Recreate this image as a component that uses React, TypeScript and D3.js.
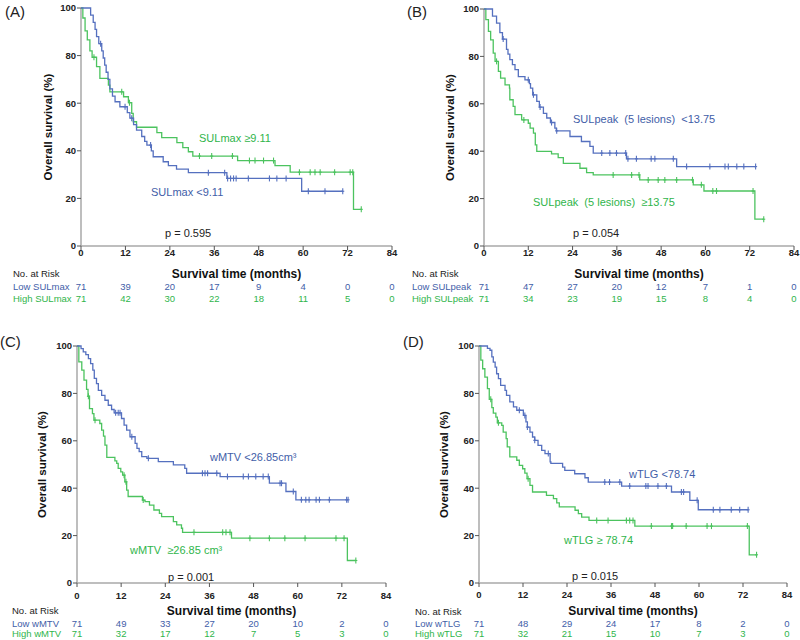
import React from "react";
import * as d3 from "d3";

// ---------- Data ----------
const xTicks = [0, 12, 24, 36, 48, 60, 72, 84];
const yTicks = [0, 20, 40, 60, 80, 100];

// Panel A: SULmax
const aLowSteps: [number, number][] = [[0,100],[2.6,97],[3.3,94],[3.8,91],[4.2,88],[4.8,85],[5.6,82],[6.0,79],[6.4,76],[6.8,73],[7.3,70],[7.8,66],[8.5,63],[9.2,60.6],[10.5,58.5],[12.5,56],[13.2,53.7],[14.2,51],[15,48.7],[16.4,46],[17.2,44],[17.8,42.4],[19,40],[19.5,37.5],[22.2,35.4],[23.6,33.8],[25.8,32.3],[29,30.8],[39.4,28.4],[59.6,23],[70.7,23]];
const aLowCensors = [5.3, 11.9, 13.7, 18.8, 34.4, 38.8, 39.6, 40.4, 41.2, 41.9, 45.2, 50.9, 52.9, 55.4, 61.4, 65.9, 70.7];
const aHighSteps: [number, number][] = [[0,100],[0.5,95.8],[1.1,90.4],[1.7,86.6],[2.4,82],[3.0,79.3],[4.2,75.4],[5.1,70.4],[7.4,67.6],[7.8,64.8],[11.5,62.7],[12.8,60.2],[13.7,55.7],[14.1,52.2],[15,49.9],[20.5,47.6],[21.8,45.5],[25.9,43.4],[27.5,41.3],[29,39.6],[30.2,37.8],[42.3,35.9],[52.4,33.8],[56.5,31],[73.6,15.4],[75.7,15.4]];
const aHighCensors = [3.5, 11, 13.1, 32, 35.3, 40.9, 45.5, 47, 49.3, 52, 59, 61.9, 63.2, 64.6, 68.5, 72.7, 73.4, 75.7];
const aLowRisk = [71, 39, 20, 17, 9, 4, 0, 0];
const aHighRisk = [71, 42, 30, 22, 18, 11, 5, 0];

// Panel B: SULpeak
const bLowSteps: [number, number][] = [[0,100],[2.3,97],[3.4,94],[4.3,90],[5.0,87.3],[6.1,83],[6.5,81],[7,78.6],[7.7,76.5],[8.4,74.4],[9.3,71.5],[11.1,70.1],[12.3,68.5],[12.6,66.6],[13.2,63.8],[14.3,61],[15,58.6],[16.1,56],[17,54],[18,52.1],[19.2,49.7],[19.6,48.6],[23.3,46.2],[26.4,44.1],[28.7,42],[29.6,39.2],[38.6,36.8],[52.2,33.5],[73.6,33.5]];
const bLowCensors = [5.2, 12.0, 13.4, 15.2, 18.3, 19.7, 31.9, 34.1, 35.9, 38.4, 39.0, 41.3, 45.3, 46.3, 51.3, 54.9, 61.2, 65.3, 66.2, 68.5, 70.4, 73.6];
const bHighSteps: [number, number][] = [[0,100],[0.5,95.5],[1.2,90.6],[1.8,87],[2.5,81.4],[3.0,77.9],[3.9,73.7],[4.5,70.8],[5.7,68],[6.9,66.6],[7.0,61.7],[7.9,58.9],[8.4,55.4],[10.2,53.2],[12,51.8],[12.5,49.7],[13.4,47.6],[13.9,42.7],[14.3,39.9],[18.3,38.9],[20.1,37.3],[21.5,34.9],[26,32.8],[27.8,31],[29.6,30],[42.2,27.9],[56.7,25.8],[59.6,23.2],[73.4,11.3],[75.8,11.3]];
const bHighCensors = [3.4, 10.8, 35, 40, 42, 44.5, 47.2, 49, 52.2, 56.5, 58.9, 62, 63, 72.9, 75.8];
const bLowRisk = [71, 47, 27, 20, 12, 7, 1, 0];
const bHighRisk = [71, 34, 23, 19, 15, 8, 4, 0];

// Panel C: wMTV
const cLowSteps: [number, number][] = [[0,100],[1.1,98.9],[1.7,97.5],[2.4,96.4],[3.1,94.7],[3.7,92.6],[4.3,89.8],[4.7,86.3],[5.3,84.1],[5.8,81.3],[6.7,79.2],[7.6,77.1],[8.5,75],[9.4,73.2],[10.1,71.8],[12.1,69.4],[12.8,66.6],[13.5,64.5],[14.4,61.7],[15.8,58.9],[16.3,56.8],[16.9,55.4],[17.6,53.3],[19,52.6],[22.1,51.2],[26.2,49.8],[29.3,48.4],[29.8,46.3],[38.9,44.9],[52.3,42.1],[56.8,38.6],[59.5,35.1],[73.7,35.1]];
const cLowCensors = [10.5, 11.2, 11.7, 14.9, 19.4, 34.1, 34.8, 35.5, 38, 40.9, 45.2, 46.6, 48.6, 50.6, 52.0, 55.2, 55.6, 58.8, 61, 62.2, 63.1, 65, 65.9, 68.6, 73.3, 73.7];
const cHighSteps: [number, number][] = [[0,100],[0.5,93.3],[1.3,89.8],[1.9,85.6],[2.6,81.7],[3.0,78.8],[3.4,73.6],[4.2,71.5],[4.6,68.7],[6.2,67.3],[6.7,64.5],[7.2,62],[7.6,58.2],[8.1,53],[10.3,51.5],[10.8,50.5],[11.2,48.4],[11.9,46.9],[12.4,45.5],[13,42.7],[13.5,39.2],[13.9,36.5],[17.8,35],[18.5,34.3],[19.7,32.9],[20.9,30.8],[22.4,29.4],[23,28],[26.2,25.9],[27.1,24.5],[28.4,23.1],[28.7,21.4],[42,18.9],[73.5,9.5],[75.8,9.5]];
const cHighCensors = [3.1, 4.9, 12.8, 13.3, 18, 31.8, 39.6, 40.5, 41.6, 47, 52.3, 56.5, 62, 70.4, 72.6, 75.8];
const cLowRisk = [71, 49, 33, 27, 20, 10, 2, 0];
const cHighRisk = [71, 32, 17, 12, 7, 5, 3, 0];

// Panel D: wTLG
const dLowSteps: [number, number][] = [[0,100],[2.3,99],[3,98.2],[3.5,95.4],[3.9,93.2],[4.4,91.1],[4.8,88.3],[5.3,86.2],[5.9,83.4],[7.1,81.3],[7.5,79.2],[8.4,76.4],[9.4,74.3],[10.3,72.9],[12.1,70.7],[12.8,68],[13.2,65.8],[13.9,63.7],[14.6,61.6],[15.2,60.2],[16.1,58.1],[17.1,56],[18,54.6],[19.4,51.1],[19.6,50.5],[22.8,48.9],[23.4,47.5],[26.1,46.1],[28.9,44.4],[29.8,42.6],[38.9,40.9],[52.5,38.4],[57.5,34.9],[59.8,30.9],[73.4,30.9]];
const dLowCensors = [11.0, 12.5, 13.2, 15.2, 18.9, 34.3, 35.6, 38.4, 41.1, 45.5, 46.1, 48.8, 51.1, 55.2, 55.8, 59.5, 63.9, 65.7, 68.8, 71.1, 73.4];
const dHighSteps: [number, number][] = [[0,100],[0.5,94],[1,90.4],[1.6,86.9],[2.3,82],[2.8,77.5],[3.5,74],[3.9,71.7],[4.6,70],[5.0,67.6],[6.2,66.5],[6.6,63.7],[7.4,60.9],[7.7,57.4],[8.4,53.2],[10.3,51.8],[11,49.6],[11.9,48.2],[12.5,46.4],[13.1,44],[13.9,41.2],[14.6,38.4],[18.4,37],[20.3,35.6],[21.2,33.8],[21.9,32.1],[26.2,30.7],[27.1,29.3],[28,27.8],[30,26.4],[42.5,24],[73.7,11.9],[75.7,11.9]];
const dHighCensors = [3.2, 5.3, 13.4, 32.1, 35.2, 40.2, 41.1, 42, 47, 52.5, 52.8, 56.5, 62.2, 63.4, 73.2, 75.7];
const dLowRisk = [71, 48, 29, 24, 17, 8, 2, 0];
const dHighRisk = [71, 32, 21, 15, 10, 7, 3, 0];

// ---------- Styles ----------
const FONT = "Arial, 'Liberation Sans', Helvetica, sans-serif";
const BLUE_LINE = "#5570bf";
const GREEN_LINE = "#4cc35f";
const BLUE_TEXT = "#3f5ea8";
const GREEN_TEXT = "#2fb54b";
const AXIS = "#a8a8a8";

type PanelCfg = {
  letter: string;
  letterX: number; letterY: number;
  x0: number; x1: number; yTop: number; yBot: number;
  yTitleX: number;
  tickLabelY: number; titleY: number;
  riskLabelX: number; riskHeadY: number; riskLowY: number; riskHighY: number;
  lowName: string; highName: string;
  lowSteps: [number, number][]; lowCensors: number[];
  highSteps: [number, number][]; highCensors: number[];
  lowRisk: number[]; highRisk: number[];
  lowLabel: string; lowLabelPos: [number, number];
  highLabel: string; highLabelPos: [number, number];
  pText: string; pPos: [number, number];
};

const panels: PanelCfg[] = [
  {
    letter: "(A)", letterX: 5, letterY: 17,
    x0: 81, x1: 392, yTop: 8, yBot: 246, yTitleX: 48,
    tickLabelY: 253, titleY: 273.5,
    riskLabelX: 13, riskHeadY: 274, riskLowY: 286.5, riskHighY: 298.5,
    lowName: "Low SULmax", highName: "High SULmax",
    lowSteps: aLowSteps, lowCensors: aLowCensors, highSteps: aHighSteps, highCensors: aHighCensors,
    lowRisk: aLowRisk, highRisk: aHighRisk,
    lowLabel: "SULmax <9.11", lowLabelPos: [151, 192],
    highLabel: "SULmax \u22659.11", highLabelPos: [199, 138],
    pText: "p = 0.595", pPos: [165, 233],
  },
  {
    letter: "(B)", letterX: 407, letterY: 17,
    x0: 484, x1: 794, yTop: 9, yBot: 246, yTitleX: 450,
    tickLabelY: 253, titleY: 273.5,
    riskLabelX: 412, riskHeadY: 274, riskLowY: 286.5, riskHighY: 298.5,
    lowName: "Low SULpeak", highName: "High SULpeak",
    lowSteps: bLowSteps, lowCensors: bLowCensors, highSteps: bHighSteps, highCensors: bHighCensors,
    lowRisk: bLowRisk, highRisk: bHighRisk,
    lowLabel: "SULpeak  (5 lesions)  <13.75", lowLabelPos: [573, 119],
    highLabel: "SULpeak  (5 lesions)  \u226513.75", highLabelPos: [533, 202],
    pText: "p = 0.054", pPos: [573, 233],
  },
  {
    letter: "(C)", letterX: 0, letterY: 347,
    x0: 77, x1: 386, yTop: 346, yBot: 583, yTitleX: 42,
    tickLabelY: 596, titleY: 610.5,
    riskLabelX: 12, riskHeadY: 611, riskLowY: 623.5, riskHighY: 634,
    lowName: "Low wMTV", highName: "High wMTV",
    lowSteps: cLowSteps, lowCensors: cLowCensors, highSteps: cHighSteps, highCensors: cHighCensors,
    lowRisk: cLowRisk, highRisk: cHighRisk,
    lowLabel: "wMTV <26.85cm\u00b3", lowLabelPos: [210, 457],
    highLabel: "wMTV  \u226526.85 cm\u00b3", highLabelPos: [130, 550],
    pText: "p = 0.001", pPos: [168, 577],
  },
  {
    letter: "(D)", letterX: 403, letterY: 347,
    x0: 479, x1: 787, yTop: 346, yBot: 583, yTitleX: 444,
    tickLabelY: 595, titleY: 610.5,
    riskLabelX: 415, riskHeadY: 611.5, riskLowY: 623.5, riskHighY: 634,
    lowName: "Low wTLG", highName: "High wTLG",
    lowSteps: dLowSteps, lowCensors: dLowCensors, highSteps: dHighSteps, highCensors: dHighCensors,
    lowRisk: dLowRisk, highRisk: dHighRisk,
    lowLabel: "wTLG <78.74", lowLabelPos: [629, 474],
    highLabel: "wTLG \u2265 78.74", highLabelPos: [564, 540],
    pText: "p = 0.015", pPos: [572, 576],
  },
];

function survAt(steps: [number, number][], t: number): number {
  let s = steps[0][1];
  for (const [ti, si] of steps) {
    if (ti <= t + 1e-9) s = si;
    else break;
  }
  return s;
}

function Panel({ cfg }: { cfg: PanelCfg }) {
  const x = d3.scaleLinear().domain([0, 84]).range([cfg.x0, cfg.x1]);
  const y = d3.scaleLinear().domain([0, 100]).range([cfg.yBot, cfg.yTop]);
  const line = d3
    .line<[number, number]>()
    .x((d) => x(d[0]))
    .y((d) => y(d[1]))
    .curve(d3.curveStepAfter);

  const curve = (steps: [number, number][], censors: number[], color: string) => (
    <g>
      <path d={line(steps) || ""} fill="none" stroke={color} strokeWidth={1.3} />
      {censors.map((t, i) => {
        const cx = x(t);
        const cy = y(survAt(steps, t));
        return (
          <g key={i} stroke={color} strokeWidth={1.1}>
            <line x1={cx} x2={cx} y1={cy - 3} y2={cy + 3} />
            <line x1={cx - 1.5} x2={cx + 1.5} y1={cy} y2={cy} />
          </g>
        );
      })}
    </g>
  );

  const midY = (cfg.yTop + cfg.yBot) / 2;
  const midX = (cfg.x0 + cfg.x1) / 2;

  return (
    <g fontFamily={FONT}>
      <text x={cfg.letterX} y={cfg.letterY} fontSize={15} fill="#222">{cfg.letter}</text>
      {/* axes */}
      <line x1={cfg.x0} x2={cfg.x0} y1={cfg.yTop} y2={cfg.yBot} stroke={AXIS} strokeWidth={1.5} />
      <line x1={cfg.x0} x2={cfg.x1} y1={cfg.yBot} y2={cfg.yBot} stroke={AXIS} strokeWidth={1.5} />
      {yTicks.map((v) => (
        <g key={"y" + v}>
          <line x1={cfg.x0 - 4} x2={cfg.x0} y1={y(v)} y2={y(v)} stroke="#555" strokeWidth={1} />
          <text x={cfg.x0 - 5} y={y(v)} dy="0.35em" textAnchor="end" fontSize={9.5} fontWeight="bold" fill="#222">{v}</text>
        </g>
      ))}
      {xTicks.map((v) => (
        <g key={"x" + v}>
          <line x1={x(v)} x2={x(v)} y1={cfg.yBot} y2={cfg.yBot + 4} stroke="#555" strokeWidth={1} />
          <text x={x(v)} y={cfg.tickLabelY} dy="0.35em" textAnchor="middle" fontSize={9.5} fontWeight="bold" fill="#222">{v}</text>
        </g>
      ))}
      <text
        transform={`translate(${cfg.yTitleX},${midY}) rotate(-90)`}
        textAnchor="middle" dy="0.35em" fontSize={11.5} fontWeight="bold" fill="#111"
      >Overall survival (%)</text>
      <text x={midX} y={cfg.titleY} dy="0.35em" textAnchor="middle" fontSize={12} fontWeight="bold" fill="#111">Survival time (months)</text>

      {curve(cfg.highSteps, cfg.highCensors, GREEN_LINE)}
      {curve(cfg.lowSteps, cfg.lowCensors, BLUE_LINE)}

      <text x={cfg.lowLabelPos[0]} y={cfg.lowLabelPos[1]} dy="0.35em" fontSize={11} fill={BLUE_TEXT} style={{ whiteSpace: "pre" }}>{cfg.lowLabel}</text>
      <text x={cfg.highLabelPos[0]} y={cfg.highLabelPos[1]} dy="0.35em" fontSize={11} fill={GREEN_TEXT} style={{ whiteSpace: "pre" }}>{cfg.highLabel}</text>
      <text x={cfg.pPos[0]} y={cfg.pPos[1]} dy="0.35em" fontSize={11} fill="#222">{cfg.pText}</text>

      {/* risk table */}
      <text x={cfg.riskLabelX} y={cfg.riskHeadY} dy="0.35em" fontSize={9.5} fill="#222">No. at Risk</text>
      <text x={cfg.riskLabelX} y={cfg.riskLowY} dy="0.35em" fontSize={9.5} fill={BLUE_TEXT}>{cfg.lowName}</text>
      <text x={cfg.riskLabelX} y={cfg.riskHighY} dy="0.35em" fontSize={9.5} fill={GREEN_TEXT}>{cfg.highName}</text>
      {cfg.lowRisk.map((n, i) => (
        <text key={"l" + i} x={x(xTicks[i])} y={cfg.riskLowY} dy="0.35em" textAnchor="middle" fontSize={9.5} fill={BLUE_TEXT}>{n}</text>
      ))}
      {cfg.highRisk.map((n, i) => (
        <text key={"h" + i} x={x(xTicks[i])} y={cfg.riskHighY} dy="0.35em" textAnchor="middle" fontSize={9.5} fill={GREEN_TEXT}>{n}</text>
      ))}
    </g>
  );
}

export default function App() {
  return (
    <svg
      width={800}
      height={640}
      style={{ position: "absolute", left: 0, top: 0, background: "#fff" }}
    >
      <rect width={800} height={640} fill="#fff" />
      {panels.map((p) => (
        <Panel key={p.letter} cfg={p} />
      ))}
    </svg>
  );
}
